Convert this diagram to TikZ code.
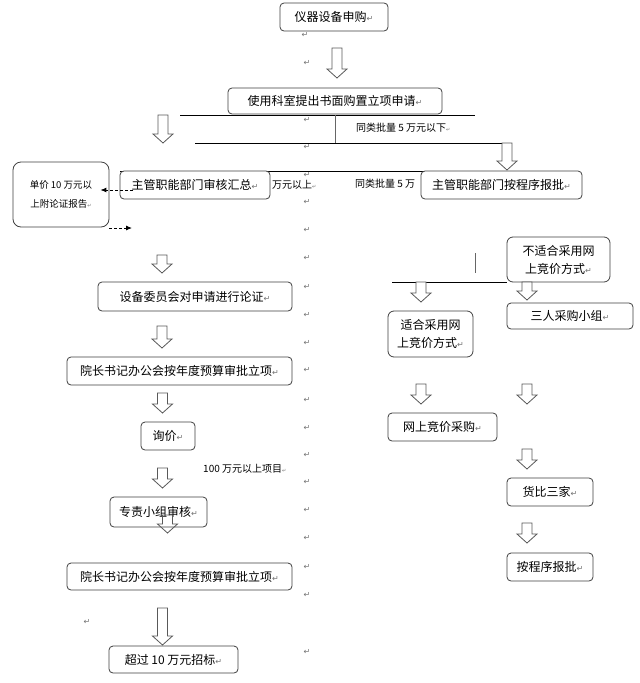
\documentclass[tikz,border=0pt]{standalone}
\usepackage{fontspec}
\setmainfont{Noto Sans CJK SC}
\newfontfamily\symfont{DejaVu Sans}
\usetikzlibrary{arrows.meta}
\newcommand{\pmark}{{\symfont\color{black!55}\fontsize{8}{8}\selectfont ↵}}
\newcommand{\tmark}{{\symfont\color{black!55}\fontsize{5}{5}\selectfont ↵}}
\tikzset{
  harrow/.pic={\draw[black!65, line width=0.8pt, fill=white, line join=miter] (-5,0) -- (-5,{#1-9}) -- (-10,{#1-9}) -- (0,#1) -- (10,{#1-9}) -- (5,{#1-9}) -- (5,0) -- cycle;},
  harrowo/.pic={\draw[black!65, line width=0.8pt, line join=miter] (-5,0) -- (-5,{#1-9}) -- (-10,{#1-9}) -- (0,#1) -- (10,{#1-9}) -- (5,{#1-9}) -- (5,0) -- cycle;},
  box/.style={draw=black!75, line width=0.8pt, rounded corners=4pt, fill=white, inner sep=0pt, font=\fontsize{12}{18}\selectfont, align=center},
  small/.style={font=\fontsize{10}{12}\selectfont, anchor=west, inner sep=0pt},
  ln/.style={black, line width=0.8pt},
  dsh/.style={black, densely dashed, line width=0.9pt, -{Latex[length=6pt,width=5pt]}}
}
\begin{document}
\begin{tikzpicture}[x=1pt,y=-1pt]
\useasboundingbox (0,0) rectangle (640,683);
\fill[white] (0,0) rectangle (640,683);

% paragraph marks column
\foreach \yy [count=\i] in {63,120,147,175,202,230,258,287,315,343,370,400,428,455,482,510,538,567,595,652}
  \node[inner sep=0pt] (m\i) at (307,\yy) {\pmark};
\node[inner sep=0pt] (m0) at (305,35) {\pmark};
\node[inner sep=0pt] (mx) at (87,622) {\pmark};

% branching lines
\coordinate (h1a) at (180,115); \coordinate (h1b) at (475,115);
\coordinate (v1a) at (335,115); \coordinate (v1b) at (335,143);
\coordinate (h2a) at (195,143); \coordinate (h2b) at (512,143);
\coordinate (h3a) at (120,171); \coordinate (h3b) at (473,171);
\coordinate (h4a) at (392,282); \coordinate (h4b) at (507,282);
\coordinate (s1a) at (475,253); \coordinate (s1b) at (475,273);
\draw[ln] (h1a) -- (h1b);
\draw[black!60, line width=0.8pt] (v1a) -- (v1b);
\draw[ln] (h2a) -- (h2b);
\draw[ln] (h3a) -- (h3b);
\draw[ln] (h4a) -- (h4b);
\draw[black!60, line width=0.8pt] (s1a) -- (s1b);

% labels
\node[small] (t1) at (356,128) {同类批量 5 万元以下\tmark};
\node[small] (t2) at (272,185) {万元以上\tmark};
\node[small] (t3) at (355,184) {同类批量 5 万};
\node[small] (t4) at (203,469) {100 万元以上项目\tmark};

% boxes
\node[box, minimum width=108pt, minimum height=28pt] (b1) at (334,17) {仪器设备申购\pmark};
\node[box, minimum width=214pt, minimum height=26pt] (b2) at (335,101) {使用科室提出书面购置立项申请\pmark};
\node[box, minimum width=150pt, minimum height=28pt] (b3) at (195,185) {主管职能部门审核汇总\pmark};
\node[box, minimum width=96pt, minimum height=65pt, rounded corners=8pt, font=\fontsize{9.5}{19}\selectfont] (b4) at (61,194.5) {单价 10 万元以\\上附论证报告\tmark};
\node[box, minimum width=161pt, minimum height=28pt] (b5) at (501.5,185) {主管职能部门按程序报批\pmark};
\node[box, minimum width=103pt, minimum height=45pt, rounded corners=6pt] (b6) at (558.5,259.5) {不适合采用网\\上竞价方式\pmark};
\node[box, minimum width=126pt, minimum height=26pt] (b7) at (570,316) {三人采购小组\pmark};
\node[box, minimum width=85pt, minimum height=46pt, rounded corners=6pt] (b8) at (430.5,334) {适合采用网\\上竞价方式\pmark};
\node[box, minimum width=109pt, minimum height=28pt] (b9) at (442.5,427) {网上竞价采购\pmark};
\node[box, minimum width=86pt, minimum height=28pt] (b10) at (550,492) {货比三家\pmark};
\node[box, minimum width=86pt, minimum height=28pt] (b11) at (550,567) {按程序报批\pmark};
\node[box, minimum width=194pt, minimum height=29pt] (c1) at (195,296.5) {设备委员会对申请进行论证\pmark};
\node[box, minimum width=225pt, minimum height=28pt] (c2) at (179.5,371) {院长书记办公会按年度预算审批立项\pmark};
\node[box, minimum width=54pt, minimum height=28pt] (c3) at (168,436) {询价\pmark};
\node[box, minimum width=97pt, minimum height=30pt] (c4) at (158.5,512) {专责小组审核\pmark};
\node[box, minimum width=225pt, minimum height=27pt] (c5) at (179.5,576.5) {院长书记办公会按年度预算审批立项\pmark};
\node[box, minimum width=129pt, minimum height=27pt] (c6) at (173.5,659.5) {超过 10 万元招标\pmark};

% dashed arrows
\coordinate (d1) at (133,190);
\coordinate (d2a) at (109,228); \coordinate (d2b) at (132,228);
\draw[dsh] (d1) -- (b4.east |- d1) -- ++(-9,0);
\draw[dsh] (d2a) -- (d2b);

% hollow block arrows
\pic at (337,48) {harrow=30};
\pic at (163,115) {harrow=28};
\pic at (507,143) {harrow=27};
\pic at (162,255) {harrow=18};
\pic at (162,326) {harrow=22};
\pic at (162.5,393) {harrow=20};
\pic at (162.5,468) {harrow=20};
\pic at (167.5,515) {harrowo=18};
\pic at (162.5,608) {harrow=37};
\pic at (421,282) {harrow=20};
\pic at (527,282) {harrow=18};
\pic at (421,384) {harrow=20};
\pic at (527,384) {harrow=20};
\pic at (527,449) {harrow=20};
\pic at (527,523) {harrow=20};
\end{tikzpicture}
\end{document}
